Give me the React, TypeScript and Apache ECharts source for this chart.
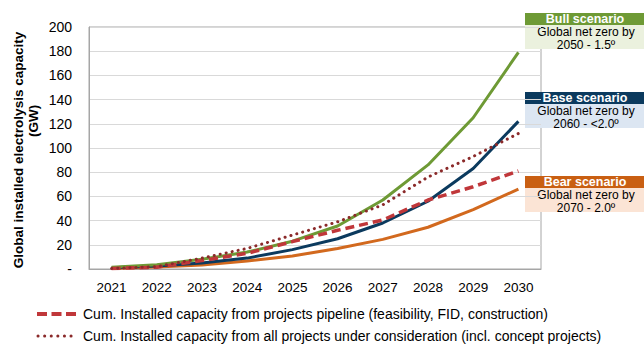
import React, { useEffect, useRef } from "react";
import * as echarts from "echarts";

const years = ["2021", "2022", "2023", "2024", "2025", "2026", "2027", "2028", "2029", "2030"];
const bull = [1.5, 3.5, 8, 14, 23, 35.5, 57, 86, 125, 179];
const base = [1, 2.5, 5, 9, 16, 25, 38, 56, 83, 122];
const bear = [0.5, 1.7, 3.3, 6.6, 10.7, 17, 24.5, 34.5, 49, 66];
const pipeline = [0.5, 1.5, 7, 13, 22.6, 32, 40.5, 57, 68, 81];
const allProjects = [0.5, 2, 9, 17, 28, 39, 53, 76, 93, 112];

const legendLabels = [
  "Cum. Installed capacity from projects pipeline (feasibility, FID, construction)",
  "Cum. Installed capacity from all projects under consideration (incl. concept projects)",
];

const scenarios = [
  { title: "Bull scenario", l1: "Global net zero by", l2: "2050 - 1.5º", dark: "#6E9A35", light: "#EBF1DE", top: 13 },
  { title: "Base scenario", l1: "Global net zero by", l2: "2060 - <2.0º", dark: "#0B3A5E", light: "#DCE6F2", top: 92 },
  { title: "Bear scenario", l1: "Global net zero by", l2: "2070 - 2.0º", dark: "#C95F12", light: "#FBE4D5", top: 176 },
];

const FONT = "Liberation Sans, Arial, sans-serif";

export default function App() {
  const ref = useRef<HTMLDivElement>(null);
  useEffect(() => {
    if (!ref.current) return;
    const chart = echarts.init(ref.current, null, { renderer: "svg" });
    const graphic: any[] = [];
    scenarios.forEach((s) => {
      graphic.push({ type: "rect", shape: { x: 525, y: s.top, width: 119, height: 12 }, style: { fill: s.dark } });
      graphic.push({ type: "rect", shape: { x: 525, y: s.top + 12, width: 119, height: 24 }, style: { fill: s.light } });
      graphic.push({
        type: "text", x: 585, y: s.top + 5.5,
        style: { text: s.title, fill: "#fff", font: `bold 12.5px ${FONT}`, align: "center", verticalAlign: "middle" },
      });
      graphic.push({
        type: "text", x: 586, y: s.top + 19,
        style: { text: s.l1, fill: "#000", font: `12px ${FONT}`, align: "center", verticalAlign: "middle" },
      });
      graphic.push({
        type: "text", x: 586, y: s.top + 31.5,
        style: { text: s.l2, fill: "#000", font: `12px ${FONT}`, align: "center", verticalAlign: "middle" },
      });
    });
    graphic.push({
      type: "text", x: 18, y: 150, rotation: Math.PI / 2,
      style: { text: "Global installed electrolysis capacity", fill: "#000", font: `bold 13.5px ${FONT}`, align: "center", verticalAlign: "middle" },
    });
    graphic.push({
      type: "text", x: 33, y: 121, rotation: Math.PI / 2,
      style: { text: "(GW)", fill: "#000", font: `bold 13.5px ${FONT}`, align: "center", verticalAlign: "middle" },
    });
    graphic.push({
      type: "line", shape: { x1: 37, y1: 314, x2: 76, y2: 314 },
      style: { stroke: "#C0373A", lineWidth: 4, lineDash: [10, 4.5] },
    });
    graphic.push({
      type: "line", shape: { x1: 38, y1: 336, x2: 76, y2: 336 },
      style: { stroke: "#8B2A2A", lineWidth: 3, lineDash: [0.1, 6.5], lineCap: "round" },
    });
    legendLabels.forEach((t, i) => {
      graphic.push({
        type: "text", x: 83, y: 314 + i * 22,
        style: { text: t, fill: "#000", font: `14px ${FONT}`, verticalAlign: "middle" },
      });
    });

    const mk = (name: string, data: number[], color: string, width: number, type: any, extra: any = {}) => ({
      name, type: "line", data, symbol: "none",
      lineStyle: { color, width, type, ...extra },
    });

    chart.setOption({
      animation: false,
      grid: { left: 89, right: 103, top: 27, bottom: 75, show: true, borderColor: "#A6A6A6", borderWidth: 1 },
      xAxis: {
        type: "category", data: years, boundaryGap: true,
        axisLine: { lineStyle: { color: "#A6A6A6" } }, axisTick: { show: false },
        axisLabel: { color: "#000", fontSize: 13.5, fontFamily: FONT, margin: 11 },
      },
      yAxis: {
        type: "value", min: 0, max: 200, interval: 20,
        axisLine: { show: true, lineStyle: { color: "#A6A6A6" } }, axisTick: { show: false },
        splitLine: { lineStyle: { color: "#D9D9D9" } },
        axisLabel: {
          color: "#000", fontSize: 14, fontFamily: FONT, margin: 17,
          formatter: (v: number) => (v === 0 ? "-" : String(v)),
        },
      },
      graphic,
      series: [
        mk("Bear", bear, "#D2691E", 3, "solid"),
        mk("Base", base, "#0B3A5E", 3, "solid"),
        mk("Bull", bull, "#6E9A35", 3, "solid"),
        mk("Pipeline", pipeline, "#C0373A", 3.5, [9, 5]),
        mk("All", allProjects, "#8B2A2A", 3, [0.1, 6], { cap: "round" }),
      ],
    });
    return () => chart.dispose();
  }, []);
  return <div ref={ref} style={{ width: 644, height: 344, position: "absolute", left: 0, top: 0 }} />;
}
